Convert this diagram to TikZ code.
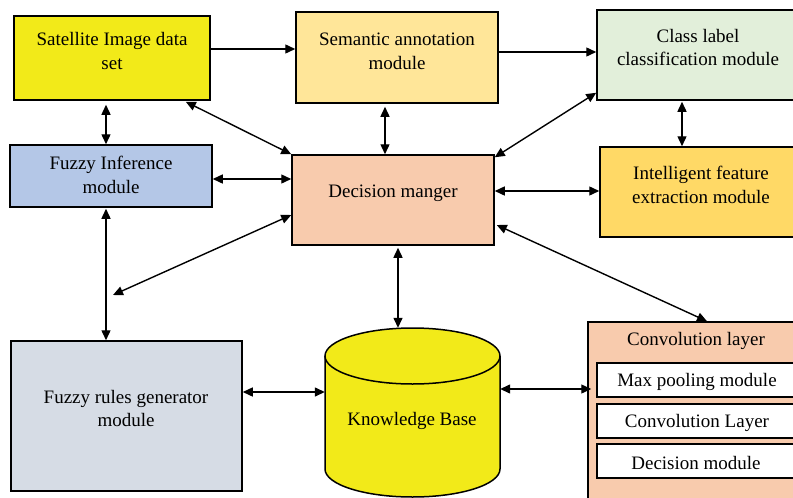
\documentclass[tikz,border=0pt]{standalone}
\usepackage{fontspec}
\setmainfont{Liberation Serif}
\usetikzlibrary{arrows.meta, calc}
\definecolor{satyellow}{RGB}{242,234,25}
\definecolor{semorange}{RGB}{255,230,153}
\definecolor{clsgreen}{RGB}{226,239,218}
\definecolor{finblue}{RGB}{180,199,231}
\definecolor{dmsalmon}{RGB}{248,203,173}
\definecolor{ifegold}{RGB}{255,217,102}
\definecolor{frggrey}{RGB}{214,220,229}
\tikzset{
  block/.style={draw, line width=1.5pt, inner sep=0pt},
  txt/.style={align=center, inner sep=0.75pt, font=\fontsize{19}{23.5}\selectfont},
  link/.style={line width=1.4pt, <->, >={Triangle[length=10pt,width=9pt]}},
  onelink/.style={line width=1.4pt, ->, >={Triangle[length=10pt,width=9pt]}}
}

\begin{document}
\begin{tikzpicture}[x=1pt,y=1pt,yscale=-1,xscale=1]
\useasboundingbox (0,0) rectangle (793,498);

%Shape: Rectangle [sat]
\node[block, fill=satyellow, minimum width=196, minimum height=84] (sat) at (112,58) {};
%Shape: Rectangle [sem]
\node[block, fill=semorange, minimum width=202, minimum height=91] (sem) at (397,57.5) {};
%Shape: Rectangle [cls]
\node[block, fill=clsgreen, minimum width=198, minimum height=90] (cls) at (696,55) {};
%Shape: Rectangle [fin]
\node[block, fill=finblue, minimum width=202, minimum height=62] (fin) at (111,176) {};
%Shape: Rectangle [dm]
\node[block, fill=dmsalmon, minimum width=202, minimum height=90] (dm) at (393,200) {};
%Shape: Rectangle [ife]
\node[block, fill=ifegold, minimum width=196, minimum height=90] (ife) at (698,192) {};
%Shape: Rectangle [frg]
\node[block, fill=frggrey, minimum width=231, minimum height=150] (frg) at (126.5,416) {};

%Shape: Can [kb]
\node[inner sep=0pt, minimum width=175, minimum height=170] (kb) at (412.5,413) {};
\draw[line width=1.5pt, fill=satyellow] (325,356) -- (325,469) arc [start angle=180, end angle=0, x radius=87.5, y radius=28] -- (500,356);
\draw[line width=1.5pt, fill=satyellow] (412.5,356) ellipse [x radius=87.5, y radius=28];

%Shape: Rectangle [conv]
\node[block, fill=dmsalmon, minimum width=207, minimum height=183] (conv) at (691.5,413.5) {};
\node[block, fill=white, minimum width=198, minimum height=34] (maxp) at (696,380) {};
\node[block, fill=white, minimum width=198, minimum height=34] (convl) at (696,421) {};
\node[block, fill=white, minimum width=198, minimum height=34] (decm) at (696,461) {};

% Text Node
\node[txt] (satt) at (112,51) {Satellite Image data\\set};
% Text Node
\node[txt] (semt) at (397,51.5) {Semantic annotation\\module};
% Text Node
\node[txt] (clst) at (698,47.5) {Class label\\classification module};
% Text Node
\node[txt] (fint) at (111,175) {Fuzzy Inference\\module};
% Text Node
\node[txt] (dmt) at (393,193) {Decision manger};
% Text Node
\node[txt] (ifet) at (701,185) {Intelligent feature\\extraction module};
% Text Node
\node[txt] (frgt) at (126,408.5) {Fuzzy rules generator\\module};
% Text Node
\node[txt] (kbt) at (412,421) {Knowledge Base};
% Text Node
\node[txt] (convt) at (696,341) {Convolution layer};
% Text Node
\node[txt] (maxpt) at (697,382) {Max pooling module};
% Text Node
\node[txt] (convlt) at (697,423) {Convolution Layer};
% Text Node
\node[txt] (decmt) at (696,463) {Decision module};

\coordinate (frp) at (113,295);

%Straight Lines
\draw[onelink] ($(sat.east)+(0,-9)$) -- ($(sem.west)+(0,-8.5)$);
\draw[onelink] ($(sem.east)+(0,-5.5)$) -- ($(cls.west)+(0,-3)$);
\draw[link] ($(sat.south)+(-6,4)$) -- ($(fin.north)+(-5,0)$);
\draw[link] ($(sat.south east)+(-25,1)$) -- (dm.north west);
\draw[link] ($(sem.south)+(-12,3)$) -- ($(dm.north)+(-8,0)$);
\draw[link] ($(cls.south west)+(0,-8)$) -- ($(dm.north east)+(0,3)$);
\draw[link] ($(cls.south)+(-14,1)$) -- ($(ife.north)+(-16,0)$);
\draw[link] ($(fin.east)+(0,3)$) -- ($(dm.west)+(0,-21)$);
\draw[link] ($(dm.east)+(0,-9)$) -- ($(ife.west)+(0,-1)$);
\draw[link] ($(dm.south)+(5,2)$) -- ($(kb.north)+(-14.5,0)$);
\draw[link] ($(dm.west)+(0,15)$) -- (frp);
\draw[link] ($(fin.south)+(-5,1)$) -- ($(frg.north)+(-20.5,0)$);
\draw[link] ($(dm.east)+(2,25)$) -- ($(conv.north)+(15.5,0)$);
\draw[link] ($(frg.east)+(0,-24)$) -- ($(kb.west)+(0,-21)$);
\draw[link] ($(kb.east)+(0,-24)$) -- ($(conv.west)+(4,-24.5)$);

\end{tikzpicture}
\end{document}
